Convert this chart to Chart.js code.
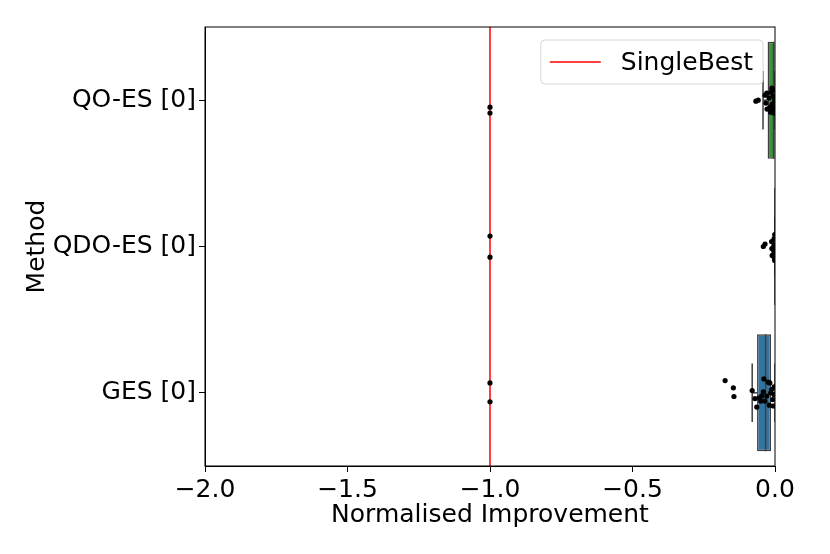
<!DOCTYPE html>
<html>
<head>
<meta charset="utf-8">
<script src="https://cdn.jsdelivr.net/npm/chart.js@4.4.1/dist/chart.umd.min.js"></script>
<style>
  html, body { margin: 0; padding: 0; background: #fff; }
  #wrap { width: 830px; height: 554px; }
</style>
</head>
<body>
<div id="wrap"><canvas id="chart"></canvas></div>
<script>
const methods = ["QO-ES [0]", "QDO-ES [0]", "GES [0]"];
const boxColors = ["#3a923a", "#e1812c", "#3274a1"];

// box stats per method
const q1 = [-0.026, -0.001, -0.063];
const median = [-0.005, 0.0, -0.033];
const q3 = [0.0, 0.0, -0.014];
const whiskerLo = [-0.042, 0.0, -0.080];
const whiskerHi = [0.0, 0.0, 0.0];

const singleBest = -1.0;
const xTicks = [-2.0, -1.5, -1.0, -0.5, 0.0];

// strip points: value and jitter (fraction of one category step)
const qoesX = [-1.0, -1.0, -0.067, -0.059, -0.035, -0.029, -0.032, -0.021, -0.018, -0.015, -0.004, -0.004, -0.010, -0.007, -0.014, -0.001, -0.028, -0.011, -0.002, -0.006];
const qoesJitter = [0.048, 0.088, 0.007, 0.000, -0.034, -0.048, 0.020, -0.014, 0.048, 0.082, -0.068, 0.088, 0.027, -0.027, -0.054, 0.000, 0.061, -0.082, 0.041, 0.068];

const qdoesX = [-1.0, -1.0, -0.041, -0.035, -0.012, -0.011, -0.010, -0.005, -0.003, -0.002, -0.001, 0.0, -0.004, -0.001];
const qdoesJitter = [-0.071, 0.073, 0.0, -0.017, -0.034, 0.014, 0.061, 0.027, -0.054, 0.082, -0.082, 0.041, -0.007, 0.095];

const gesX = [-1.0, -1.0, -0.175, -0.146, -0.144, -0.080, -0.070, -0.064, -0.055, -0.047, -0.039, -0.041, -0.035, -0.024, -0.018, -0.020, -0.012, -0.008, -0.006, -0.004, -0.029, -0.050, -0.003, -0.015];
const gesJitter = [-0.068, 0.061, -0.084, -0.034, 0.025, -0.016, 0.039, 0.097, 0.034, 0.022, -0.095, -0.007, 0.056, -0.073, -0.068, 0.084, -0.022, 0.046, 0.090, 0.012, 0.022, 0.056, -0.041, 0.0];

const stripX = [qoesX, qdoesX, gesX];
const stripJitter = [qoesJitter, qdoesJitter, gesJitter];

Chart.defaults.font.family = "DejaVu Sans";
Chart.defaults.color = "#000";

const lineGray = "#3f3f3f";
const fmt = v => (Math.abs(v) < 1e-9 ? "0.0" : v.toFixed(1).replace("-", "\u2212"));

function seg(x0, y0, x1, y1) {
  return {
    type: "scatter",
    data: [{ x: x0, y: y0 }, { x: x1, y: y1 }],
    showLine: true,
    borderColor: lineGray,
    borderWidth: 1.5,
    pointRadius: 0,
    order: 1,
  };
}

const datasets = [];

// boxes
datasets.push({
  type: "bar",
  indexAxis: "y",
  data: methods.map((m, i) => ({ x: [q1[i], q3[i]], y: i })),
  backgroundColor: boxColors,
  borderColor: lineGray,
  borderWidth: 1.5,
  borderSkipped: false,
  barPercentage: 0.8,
  categoryPercentage: 1,
  order: 3,
});

// whiskers, caps, medians
methods.forEach((m, i) => {
  datasets.push(seg(whiskerLo[i], i, q1[i], i));
  datasets.push(seg(q3[i], i, whiskerHi[i], i));
  datasets.push(seg(whiskerLo[i], i - 0.2, whiskerLo[i], i + 0.2));
  datasets.push(seg(whiskerHi[i], i - 0.2, whiskerHi[i], i + 0.2));
  datasets.push(seg(median[i], i - 0.4, median[i], i + 0.4));
});

// SingleBest line
datasets.push({
  type: "scatter",
  label: "SingleBest",
  data: [{ x: singleBest, y: -0.5 }, { x: singleBest, y: 2.5 }],
  showLine: true,
  borderColor: "#ff0000",
  borderWidth: 1.5,
  pointRadius: 0,
  order: 1,
});

// strip points
methods.forEach((m, i) => {
  datasets.push({
    type: "scatter",
    data: stripX[i].map((v, k) => ({ x: v, y: i + stripJitter[i][k] })),
    backgroundColor: "#000",
    borderWidth: 0,
    pointRadius: 2.6,
    order: 0,
  });
});

const frame = {
  id: "frame",
  afterDraw(chart) {
    const { ctx, chartArea: a } = chart;
    ctx.save();
    ctx.strokeStyle = "#000";
    ctx.lineWidth = 1;
    ctx.strokeRect(a.left, a.top, a.right - a.left, a.bottom - a.top);
    ctx.restore();
  },
};

const legendBox = {
  id: "legendBox",
  afterDatasetsDraw(chart) {
    const { ctx, chartArea: a } = chart;
    const label = "SingleBest";
    ctx.save();
    ctx.font = "25px 'DejaVu Sans'";
    const tw = ctx.measureText(label).width;
    const w = 9 + 51 + 20 + tw + 10;
    const h = 44;
    const x0 = a.right - 12 - w;
    const y0 = a.top + 13;
    ctx.beginPath();
    ctx.roundRect(x0, y0, w, h, 4);
    ctx.fillStyle = "rgba(255,255,255,0.8)";
    ctx.fill();
    ctx.strokeStyle = "#d6d6d6";
    ctx.lineWidth = 1;
    ctx.stroke();
    ctx.beginPath();
    ctx.moveTo(x0 + 9, y0 + h / 2);
    ctx.lineTo(x0 + 60, y0 + h / 2);
    ctx.strokeStyle = "#ff0000";
    ctx.lineWidth = 1.5;
    ctx.stroke();
    ctx.fillStyle = "#000";
    ctx.textBaseline = "middle";
    ctx.fillText(label, x0 + 80, y0 + h / 2 + 1);
    ctx.restore();
  },
};

new Chart(document.getElementById("chart"), {
  type: "scatter",
  data: { datasets },
  options: {
    responsive: true,
    maintainAspectRatio: false,
    animation: false,
    layout: { padding: { top: 27, right: 55, bottom: 20, left: 0 } },
    plugins: { legend: { display: false }, tooltip: { enabled: false } },
    scales: {
      x: {
        type: "linear",
        min: -2,
        max: 0,
        offset: false,
        afterBuildTicks: s => { s.ticks = xTicks.map(v => ({ value: v })); },
        afterFit: s => { s.height = 68; },
        ticks: { font: { size: 25 }, padding: 3, callback: v => fmt(v) },
        grid: { offset: false, drawOnChartArea: false, drawTicks: true, tickLength: 6, color: "#000" },
        border: { display: true, color: "#000" },
        title: { display: true, text: "Normalised Improvement", font: { size: 25 }, padding: { top: 0, bottom: 4 } },
      },
      y: {
        type: "linear",
        min: -0.5,
        max: 2.5,
        reverse: true,
        offset: false,
        afterBuildTicks: s => { s.ticks = methods.map((m, i) => ({ value: i })); },
        afterFit: s => { s.width = 205; },
        ticks: { font: { size: 25 }, padding: 3, callback: v => methods[v] },
        grid: { offset: false, drawOnChartArea: false, drawTicks: true, tickLength: 6, color: "#000" },
        border: { display: true, color: "#000" },
        title: { display: true, text: "Method", font: { size: 25 }, padding: { top: 22, bottom: 0 } },
      },
    },
  },
  plugins: [frame, legendBox],
});
</script>
</body>
</html>
